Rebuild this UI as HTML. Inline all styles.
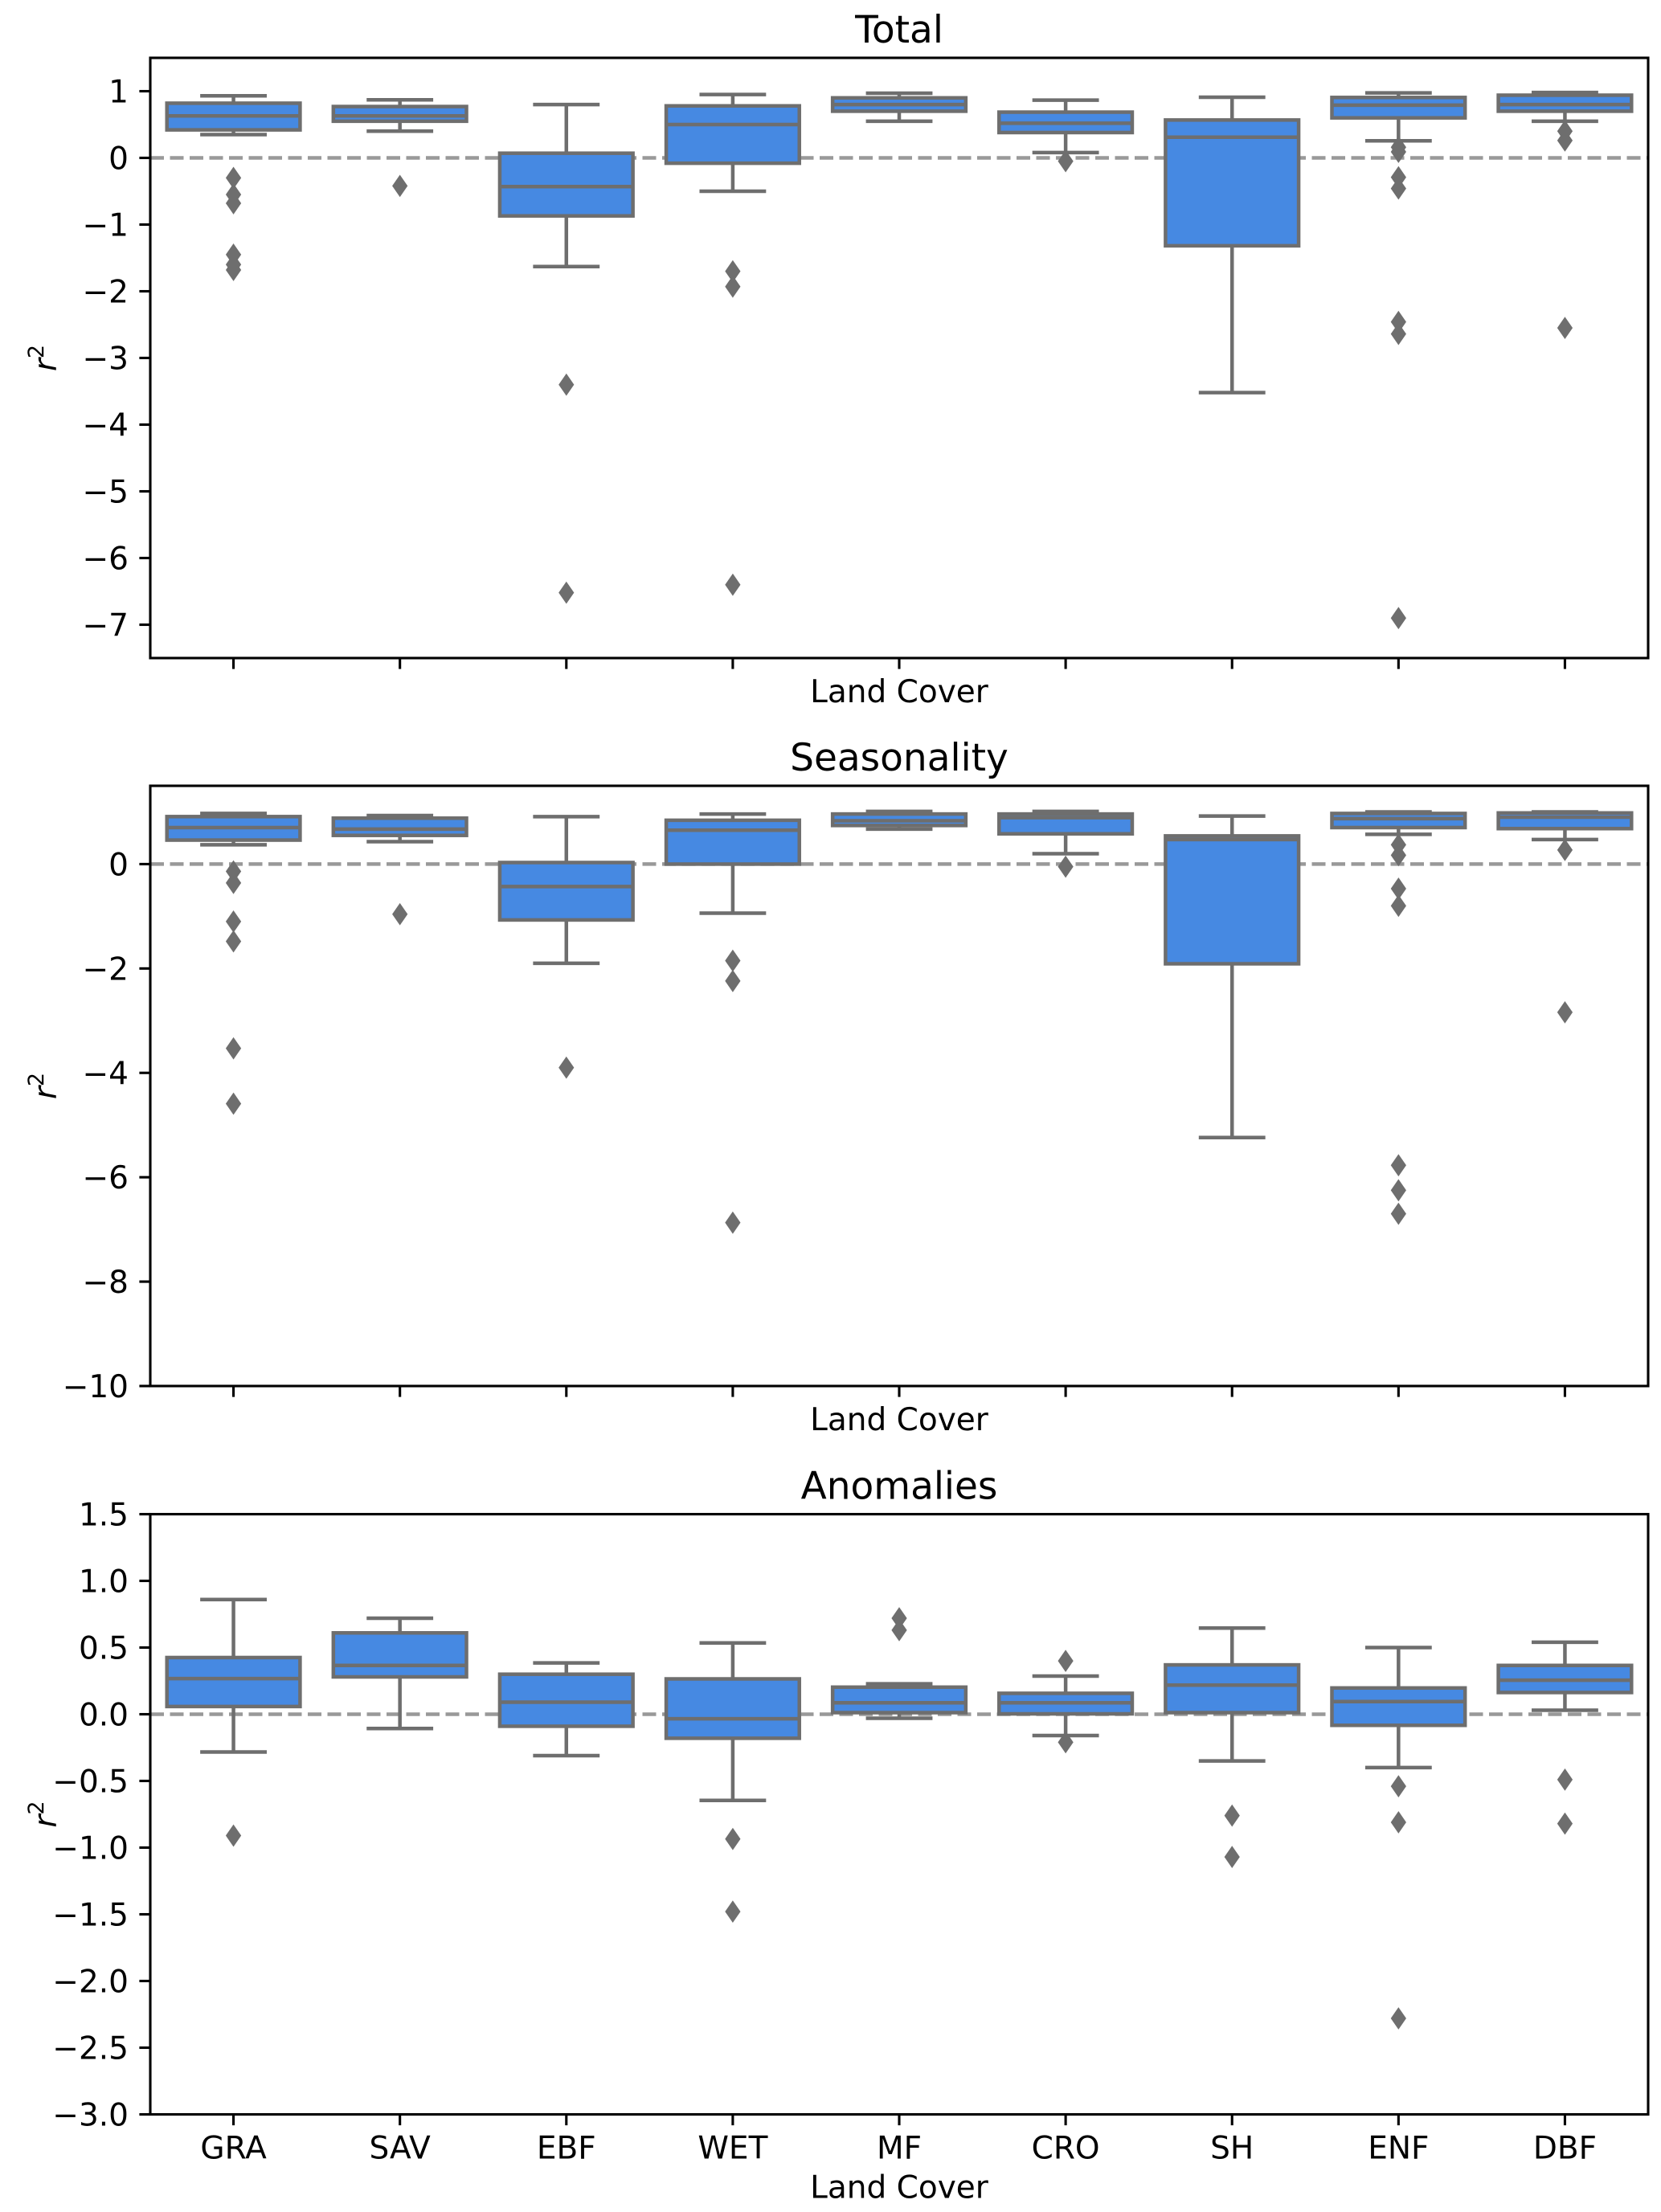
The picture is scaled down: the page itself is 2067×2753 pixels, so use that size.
<!DOCTYPE html>
<html><head><meta charset="utf-8">
<style>
html,body{margin:0;padding:0;background:#fff;}
svg{display:block;font-family:"DejaVu Sans","Liberation Sans",sans-serif;}
</style></head>
<body>
<svg id="fig" width="2067" height="2753" viewBox="0 0 2067 2753" xmlns="http://www.w3.org/2000/svg"></svg>
<script>
const categories = ["GRA","SAV","EBF","WET","MF","CRO","SH","ENF","DBF"];

// Total panel: [whiskerLow, q1, median, q3, whiskerHigh]
const totalStats = [
  [0.35,0.42,0.63,0.82,0.93],[0.40,0.55,0.63,0.77,0.87],[-1.63,-0.87,-0.43,0.07,0.80],
  [-0.50,-0.08,0.50,0.78,0.95],[0.55,0.70,0.80,0.90,0.97],[0.08,0.38,0.52,0.686,0.866],
  [-3.52,-1.318,0.31,0.568,0.91],[0.256,0.60,0.79,0.906,0.975],[0.55,0.70,0.80,0.94,0.98]
];
const totalOutliers = [
  [-0.3,-0.55,-0.68,-1.45,-1.6,-1.68],[-0.42],[-3.4,-6.52],[-1.7,-1.93,-6.4],[],[-0.05],[],
  [0.16,0.09,-0.29,-0.46,-2.46,-2.64,-6.9],[0.40,0.26,-2.55]
];

// Seasonality panel
const seasStats = [
  [0.37,0.46,0.70,0.91,0.97],[0.43,0.55,0.67,0.88,0.93],[-1.90,-1.07,-0.43,0.03,0.91],
  [-0.94,0.0,0.65,0.84,0.96],[0.67,0.74,0.83,0.96,1.01],[0.20,0.58,0.89,0.96,1.01],
  [-5.24,-1.91,0.47,0.54,0.92],[0.57,0.70,0.87,0.97,1.0],[0.47,0.68,0.90,0.98,1.0]
];
const seasOutliers = [
  [-0.14,-0.36,-1.10,-1.48,-3.53,-4.59],[-0.96],[-3.90],[-1.85,-2.24,-6.87],[],[-0.05],[],
  [0.37,0.17,-0.47,-0.80,-5.77,-6.25,-6.7],[0.27,-2.84]
];

// Anomalies panel
const anomStats = [
  [-0.283,0.058,0.267,0.425,0.86],[-0.107,0.28,0.366,0.61,0.72],[-0.31,-0.09,0.09,0.30,0.385],
  [-0.646,-0.18,-0.034,0.265,0.535],[-0.03,0.012,0.086,0.203,0.228],[-0.16,0.003,0.086,0.157,0.286],
  [-0.35,0.012,0.218,0.37,0.646],[-0.40,-0.083,0.095,0.197,0.50],[0.03,0.163,0.255,0.366,0.54]
];
const anomOutliers = [
  [-0.91],[],[],[-0.935,-1.48],[0.72,0.63],[0.40,-0.21],[-0.76,-1.07],[-0.54,-0.81,-2.28],[-0.49,-0.82]
];

const totalTicks = [1,0,-1,-2,-3,-4,-5,-6,-7];
const seasTicks = [0,-2,-4,-6,-8,-10];
const anomTicks = [1.5,1.0,0.5,0.0,-0.5,-1.0,-1.5,-2.0,-2.5,-3.0];

const NS = "http://www.w3.org/2000/svg";
const svg = document.getElementById("fig");
const L = 187, R = 2051, H = 747;
const GRAY = "#6e6e6e", BLUE = "#4689e2";
function mk(tag, attrs, parent){
  const e = document.createElementNS(NS, tag);
  for (const k in attrs) e.setAttribute(k, attrs[k]);
  (parent||svg).appendChild(e);
  return e;
}
function fmt(v, dec){ const s = Math.abs(v).toFixed(dec); return (v < 0 ? "\u2212" : "") + s; }

function panel(key, title, top, ymin, ymax, ticks, dec, stats, outliers, showCatLabels){
  const g = mk("g", {});
  
  
  const bottom = top + H;
  const bw = (R - L) / categories.length;
  const x = i => L + bw * (i + 0.5);
  const y = v => top + (ymax - v) / (ymax - ymin) * H;

  const t = mk("text", {x:(L+R)/2, y:top-19, "text-anchor":"middle", "font-size":47, fill:"#000"}, g);
  t.textContent = title;
  
  

  // zero line
  const zl = mk("line", {x1:L, x2:R, y1:y(0), y2:y(0), stroke:"#999999", "stroke-width":4.5, "stroke-dasharray":"17,7.5"}, g);
  
  

  for (let i = 0; i < categories.length; i++){
    const s = stats[i], cx = x(i), hw = bw * 0.4, cw = bw * 0.2;
    const bg = mk("g", {}, g);
    
    
    mk("line", {x1:cx, x2:cx, y1:y(s[0]), y2:y(s[1]), stroke:GRAY, "stroke-width":4.5}, bg);
    mk("line", {x1:cx, x2:cx, y1:y(s[3]), y2:y(s[4]), stroke:GRAY, "stroke-width":4.5}, bg);
    mk("line", {x1:cx-cw, x2:cx+cw, y1:y(s[0]), y2:y(s[0]), stroke:GRAY, "stroke-width":4.5}, bg);
    mk("line", {x1:cx-cw, x2:cx+cw, y1:y(s[4]), y2:y(s[4]), stroke:GRAY, "stroke-width":4.5}, bg);
    mk("rect", {x:cx-hw, y:y(s[3]), width:2*hw, height:Math.max(0.5, y(s[1])-y(s[3])), fill:BLUE, stroke:GRAY, "stroke-width":4.5}, bg);
    mk("line", {x1:cx-hw, x2:cx+hw, y1:y(s[2]), y2:y(s[2]), stroke:GRAY, "stroke-width":4.5}, bg);
    for (const o of outliers[i]){
      const oy = y(o);
      const d = mk("polygon", {points:`${cx},${oy-13} ${cx+9},${oy} ${cx},${oy+13} ${cx-9},${oy}`, fill:GRAY, stroke:GRAY, "stroke-width":1}, bg);
      
      
    }
  }

  // frame
  const fr = mk("rect", {x:L, y:top, width:R-L, height:H, fill:"none", stroke:"#000", "stroke-width":3.1}, g);
  
  

  // y ticks
  for (const tv of ticks){
    const ty = y(tv);
    mk("line", {x1:L-13.6, x2:L, y1:ty, y2:ty, stroke:"#000", "stroke-width":3.1}, g);
    const tl = mk("text", {x:L-27, y:ty+14, "text-anchor":"end", "font-size":39, fill:"#000"}, g);
    tl.textContent = fmt(tv, dec);
    
    
  }
  // x ticks
  for (let i = 0; i < categories.length; i++){
    mk("line", {x1:x(i), x2:x(i), y1:bottom, y2:bottom+13.6, stroke:"#000", "stroke-width":3.1}, g);
    if (showCatLabels){
      const cl = mk("text", {x:x(i), y:bottom+55, "text-anchor":"middle", "font-size":39, fill:"#000"}, g);
      cl.textContent = categories[i];
      
      
    }
  }
  const xl = mk("text", {x:(L+R)/2, y: bottom + (showCatLabels ? 104 : 55), "text-anchor":"middle", "font-size":39, fill:"#000"}, g);
  xl.textContent = "Land Cover";
  
  

  const yl = mk("text", {x:0, y:0, "text-anchor":"middle", "font-size":39, fill:"#000", transform:`translate(70,${top+H/2}) rotate(-90)`}, g);
  
  
  const r = mk("tspan", {"font-style":"italic"}, yl); r.textContent = "r";
  const sup = mk("tspan", {"font-size":27, dy:-16}, yl); sup.textContent = "2";
}

panel("total", "Total", 72, -7.5, 1.5, totalTicks, 0, totalStats, totalOutliers, false);
panel("seasonality", "Seasonality", 978, -10, 1.5, seasTicks, 0, seasStats, seasOutliers, false);
panel("anomalies", "Anomalies", 1884.5, -3, 1.5, anomTicks, 1, anomStats, anomOutliers, true);
</script>
</body></html>
